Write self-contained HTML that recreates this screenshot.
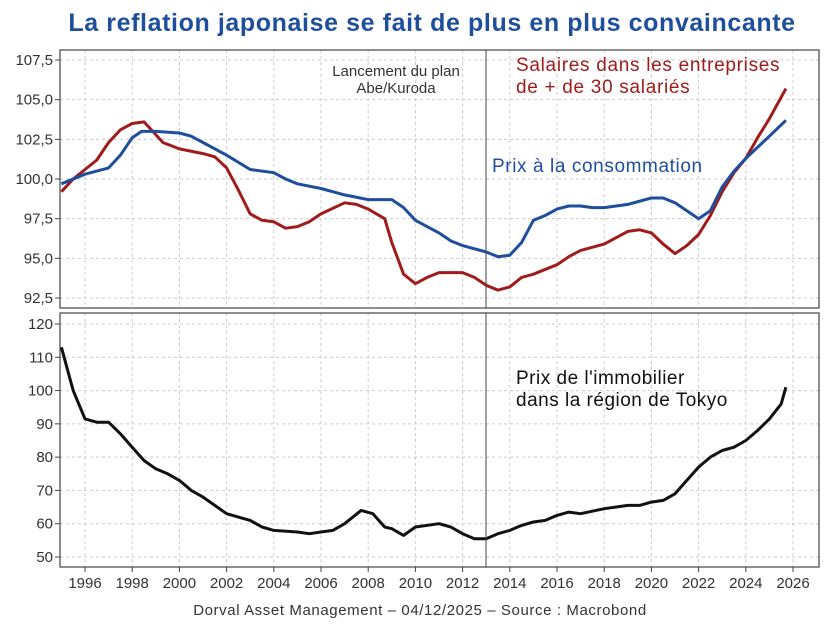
<!DOCTYPE html>
<html><head><meta charset="utf-8"><style>
body{margin:0;background:#fff;font-family:"Liberation Sans",sans-serif}
svg text{font-family:"Liberation Sans",sans-serif}
</style></head><body>
<svg id="chart" width="837" height="632" viewBox="0 0 837 632" xmlns="http://www.w3.org/2000/svg">
<rect width="837" height="632" fill="#fff"/>
<text x="432" y="31" text-anchor="middle" font-size="25" font-weight="bold" letter-spacing="0.6" fill="#1f4e9c">La reflation japonaise se fait de plus en plus convaincante</text>
<g id="grid"></g>
<g id="axes"></g>
<g id="series"></g>
<line x1="486" y1="50" x2="486" y2="308" stroke="#444" stroke-width="1"/>
<line x1="486" y1="313" x2="486" y2="567" stroke="#444" stroke-width="1"/>
<text x="396" y="76" text-anchor="middle" font-size="15" fill="#333">Lancement du plan</text>
<text x="396" y="93" text-anchor="middle" font-size="15" fill="#333">Abe/Kuroda</text>
<text x="516" y="71" font-size="19" letter-spacing="0.7" fill="#a01c1c">Salaires dans les entreprises</text>
<text x="516" y="93" font-size="19" letter-spacing="0.7" fill="#a01c1c">de + de 30 salariés</text>
<text x="492" y="172" font-size="19" letter-spacing="0.6" fill="#1f4e9c">Prix à la consommation</text>
<text x="516" y="384" font-size="19" letter-spacing="0.5" fill="#111">Prix de l'immobilier</text>
<text x="516" y="406" font-size="19" letter-spacing="0.5" fill="#111">dans la région de Tokyo</text>
<text x="420" y="615" text-anchor="middle" font-size="15" letter-spacing="0.6" fill="#333">Dorval Asset Management – 04/12/2025 –   Source : Macrobond</text>
</svg>
<script>
const cpiDates=[1995,1996,1997,1997.5,1998,1998.4,1999,2000,2000.5,2001,2002,2003,2004,2004.5,2005,2006,2007,2008,2009,2009.5,2010,2011,2011.5,2012,2013,2013.5,2014,2014.5,2015,2015.5,2016,2016.5,2017,2017.5,2018,2019,2020,2020.5,2021,2021.5,2022,2022.5,2023,2023.5,2024,2025,2025.7];
const cpiValues=[99.7,100.3,100.7,101.5,102.6,103.0,103.0,102.9,102.7,102.3,101.5,100.6,100.4,100.0,99.7,99.4,99.0,98.7,98.7,98.2,97.4,96.6,96.1,95.8,95.4,95.1,95.2,96.0,97.4,97.7,98.1,98.3,98.3,98.2,98.2,98.4,98.8,98.8,98.5,98.0,97.5,98.0,99.5,100.5,101.3,102.7,103.7];
const wageDates=[1995,1995.5,1996,1996.5,1997,1997.5,1998,1998.5,1999,1999.3,2000,2001,2001.5,2002,2002.5,2003,2003.5,2004,2004.5,2005,2005.5,2006,2007,2007.5,2008,2008.7,2009,2009.5,2010,2010.5,2011,2012,2012.5,2013,2013.5,2014,2014.5,2015,2016,2016.5,2017,2018,2019,2019.5,2020,2020.5,2021,2021.5,2022,2022.5,2023,2023.5,2024,2024.5,2025,2025.7];
const wageValues=[99.2,100.0,100.6,101.2,102.3,103.1,103.5,103.6,102.8,102.3,101.9,101.6,101.4,100.7,99.3,97.8,97.4,97.3,96.9,97.0,97.3,97.8,98.5,98.4,98.1,97.5,96.0,94.0,93.4,93.8,94.1,94.1,93.8,93.3,93.0,93.2,93.8,94.0,94.6,95.1,95.5,95.9,96.7,96.8,96.6,95.9,95.3,95.8,96.5,97.7,99.2,100.4,101.3,102.6,103.8,105.7];
const propDates=[1995,1995.5,1996,1996.5,1997,1997.5,1998,1998.5,1999,1999.5,2000,2000.5,2001,2001.5,2002,2002.5,2003,2003.5,2004,2005,2005.5,2006,2006.5,2007,2007.7,2008.2,2008.7,2009,2009.5,2010,2011,2011.5,2012,2012.5,2013,2013.5,2014,2014.5,2015,2015.5,2016,2016.5,2017,2018,2019,2019.5,2020,2020.5,2021,2021.5,2022,2022.5,2023,2023.5,2024,2024.5,2025,2025.5,2025.7];
const propValues=[113,100,91.5,90.5,90.5,87,83,79,76.5,75,73,70,68,65.5,63,62,61,59,58,57.5,57,57.5,58,60,64,63,59,58.5,56.5,59,60,59,57,55.5,55.5,57,58,59.5,60.5,61,62.5,63.5,63,64.5,65.5,65.5,66.5,67,69,73,77,80,82,83,85,88,91.5,96,101];
const xTicks=[1996,1998,2000,2002,2004,2006,2008,2010,2012,2014,2016,2018,2020,2022,2024,2026];
const topTicks=[92.5,95,97.5,100,102.5,105,107.5];
const bottomTicks=[50,60,70,80,90,100,110,120];

const NS="http://www.w3.org/2000/svg";
const L=60,R=819;
const x=d=>85+(d-1996)*23.6;
const yTop=v=>60+(107.5-v)*(238/15);
const yBot=v=>324+(120-v)*(233/70);
function mk(tag,attrs,parent){const e=document.createElementNS(NS,tag);for(const k in attrs)e.setAttribute(k,attrs[k]);parent.appendChild(e);return e;}
const grid=document.getElementById('grid'),axes=document.getElementById('axes'),series=document.getElementById('series');
const panels=[{t:50,b:308,ticks:topTicks,y:yTop,fmt:v=>v.toFixed(1).replace('.',',')},{t:313,b:567,ticks:bottomTicks,y:yBot,fmt:v=>String(v)}];
panels.forEach((p,i)=>{
  xTicks.forEach(d=>{
    const g=mk('line',{x1:x(d),x2:x(d),y1:p.t,y2:p.b,stroke:'#ccc','stroke-dasharray':'3,3'},grid);
    
    
  });
  p.ticks.forEach(v=>{
    const g=mk('line',{x1:L,x2:R,y1:p.y(v),y2:p.y(v),stroke:'#ccc','stroke-dasharray':'3,3'},grid);
    
    
    const tk=mk('line',{x1:L-5,x2:L,y1:p.y(v),y2:p.y(v),stroke:'#444'},axes);
    
    
    const t=mk('text',{x:L-7,y:p.y(v)+5,'text-anchor':'end','font-size':'15',fill:'#333'},axes);
    
    
    t.textContent=p.fmt(v);
  });
  const box=mk('rect',{x:L,y:p.t,width:R-L,height:p.b-p.t,fill:'none',stroke:'#444','stroke-width':'1.2'},axes);
  
  
});
xTicks.forEach(d=>{
  const tk=mk('line',{x1:x(d),x2:x(d),y1:567,y2:572,stroke:'#444'},axes);
  
  
  const t=mk('text',{x:x(d),y:588,'text-anchor':'middle','font-size':'15',fill:'#333'},axes);
  
  
  t.textContent=d;
});
function line(ds,vs,yf,color,name){
  const pts=ds.map((d,i)=>x(d).toFixed(1)+','+yf(vs[i]).toFixed(1)).join(' ');
  const p=mk('polyline',{points:pts,fill:'none',stroke:color,'stroke-width':'3','stroke-linejoin':'round'},series);
  
  
}
line(wageDates,wageValues,yTop,'#a01c1c','wages-line');
line(cpiDates,cpiValues,yTop,'#1f4e9c','cpi-line');
line(propDates,propValues,yBot,'#111','property-price-line');
</script>
</body></html>
